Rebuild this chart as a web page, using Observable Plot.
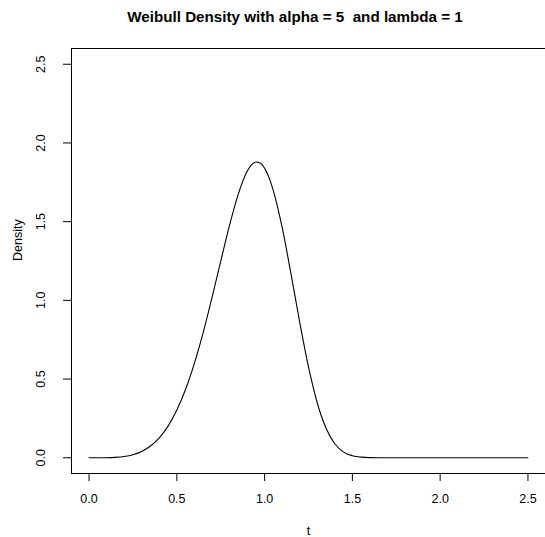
<!DOCTYPE html>
<html>
<head>
<meta charset="utf-8">
<script src="https://cdn.jsdelivr.net/npm/d3@7"></script>
<script src="https://cdn.jsdelivr.net/npm/@observablehq/plot@0.6"></script>
<style>
  html, body { margin: 0; padding: 0; background: #fff; overflow: hidden; }
  svg { display: block; }
</style>
</head>
<body>
<div id="chart"></div>
<script>
// Values
const tValues = [0, 0.05, 0.1, 0.15, 0.2, 0.25, 0.3, 0.35, 0.4, 0.45, 0.5, 0.55, 0.6, 0.65, 0.7, 0.75, 0.8, 0.85, 0.9, 0.925, 0.95, 0.975, 1.0, 1.05, 1.1, 1.15, 1.2, 1.25, 1.3, 1.35, 1.4, 1.45, 1.5, 1.55, 1.6, 1.65, 1.7, 1.8, 2.0, 2.2, 2.5];
const densityValues = [0, 0.0000, 0.0005, 0.0025, 0.008, 0.0195, 0.040, 0.075, 0.127, 0.201, 0.303, 0.435, 0.600, 0.795, 1.015, 1.248, 1.476, 1.675, 1.818, 1.860, 1.879, 1.872, 1.839, 1.696, 1.463, 1.170, 0.861, 0.577, 0.348, 0.188, 0.089, 0.036, 0.013, 0.004, 0.001, 0.0002, 0, 0, 0, 0, 0];
const xTicks = [0, 0.5, 1.0, 1.5, 2.0, 2.5];
const yTicks = [0, 0.5, 1.0, 1.5, 2.0, 2.5];
const titleText = "Weibull Density with alpha = 5  and lambda = 1";
const xLabel = "t";
const yLabel = "Density";

const data = tValues.map((t, i) => ({t, d: densityValues[i]}));
const font = "Liberation Sans, Arial, Helvetica, sans-serif";

const chart = Plot.plot({
  width: 545,
  height: 537,
  marginLeft: 71,
  marginRight: 0,
  marginTop: 48,
  marginBottom: 64,
  style: {fontFamily: font, fontSize: "12.5px", color: "#000", background: "#fff"},
  x: {domain: [-0.1, 2.6], axis: null},
  y: {domain: [-0.1, 2.6], axis: null},
  marks: [
    Plot.frame({anchor: "top", stroke: "#000", strokeWidth: 1}),
    Plot.frame({anchor: "left", stroke: "#000", strokeWidth: 1}),
    Plot.frame({anchor: "bottom", stroke: "#000", strokeWidth: 1}),
    Plot.axisX({ticks: xTicks, tickFormat: d3.format(".1f"), tickSize: 8, tickPadding: 13, stroke: "#000", fontSize: 12.5, label: null}),
    Plot.axisY({ticks: yTicks, tickFormat: () => "", tickSize: 8, stroke: "#000", label: null}),
    Plot.axisY({ticks: yTicks, tickFormat: d3.format(".1f"), tickSize: 0, tickPadding: 31, fontSize: 12.5, rotate: -90, textAnchor: "middle", label: null}),
    Plot.line(data, {x: "t", y: "d", stroke: "#000", strokeWidth: 1.1, curve: "monotone-x"}),
    Plot.text([titleText], {frameAnchor: "top", dx: -13.5, dy: -27, lineAnchor: "bottom", fontWeight: "bold", fontSize: 15.2}),
    Plot.text([xLabel], {frameAnchor: "bottom", dy: 61, lineAnchor: "bottom", fontSize: 12.5}),
    Plot.text([yLabel], {frameAnchor: "left", dx: -54, rotate: -90, fontSize: 12.5})
  ]
});
document.getElementById("chart").appendChild(chart);
</script>
</body>
</html>
